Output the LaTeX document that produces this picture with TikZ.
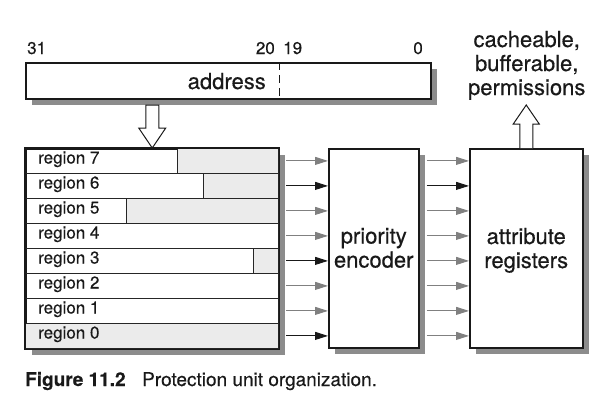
\documentclass[tikz,border=0pt]{standalone}
\usepackage{fontspec}
\setmainfont{TeX Gyre Heros}[FakeBold=0.4]
\usetikzlibrary{arrows.meta, calc}

\begin{document}
\begin{tikzpicture}[x=1pt, y=-1pt, line join=miter,
  every node/.style={text=black!90},
  box/.style={draw=black!90, line width=1.5pt, fill=white, inner sep=0pt, anchor=north west},
  dropfill/.style={fill=black!45},
  row/.style={draw=black!85, line width=0.8pt, minimum width=253pt, minimum height=25pt, inner sep=0pt, anchor=north west},
  sig/.style={-{Triangle[length=13pt, width=8pt]}, line width=1pt, draw=black!50},
  hot/.style={sig, draw=black!90},
  hollow/.style={draw=black!90, line width=1pt, fill=white},
  big/.style={font=\fontsize{22}{24}\selectfont, inner sep=0pt},
  small/.style={font=\fontsize{17}{20}\selectfont, inner sep=0pt}]
\useasboundingbox (0,0) rectangle (602,405);

% shadows
\fill[dropfill] (32,69) rectangle (437,105);
\fill[dropfill] (32,155) rectangle (285,355);
\fill[dropfill] (335,155) rectangle (425,354);
\fill[dropfill] (476,155) rectangle (589,354);

% address register
\node[box, minimum width=405pt, minimum height=36pt] (addr) at (25,62) {};
\draw[black!90, line width=0.9pt, dash pattern=on 8pt off 5pt] (279,62) -- (279,98);
\node[big, anchor=base east] (addrl) at (266,89) {address};
\node[small, anchor=base west] (b31) at (27,54) {31};
\node[small, anchor=base east] (b20) at (275,54) {20};
\node[small, anchor=base west] (b19) at (283,54) {19};
\node[small, anchor=base east] (b0) at (423,54) {0};

% region registers
\node[box, minimum width=253pt, minimum height=200pt] (regs) at (25,148) {};
\foreach \i/\x in {7/177, 6/203, 5/126, 3/253, 0/25}{
  \pgfmathsetmacro\ytop{148+(7-\i)*25}
  \fill[black!8] (\x,\ytop) rectangle (278,\ytop+25);
  \draw[black!85, line width=0.8pt] (\x,\ytop) -- (\x,\ytop+25);
}
\foreach \i in {0,...,7}{
  \pgfmathsetmacro\ytop{148+(7-\i)*25}
  \node[row] (r\i) at (25,\ytop) {};
  \node[small, anchor=base west] (l\i) at ($(r\i.north west)+(13,15.5)$) {region \i};
}
\draw[black!90, line width=1.5pt] (regs.north west) rectangle (regs.south east);

% priority encoder and attributes
\node[box, minimum width=90pt, minimum height=199pt] (enc) at (328,148) {};
\node[big, align=center, anchor=north] (encl) at ($(enc.center)+(0,-20.5)$) {priority\\encoder};
\node[box, minimum width=113pt, minimum height=199pt] (attr) at (469,148) {};
\node[big, align=center, anchor=north] (attrl) at ($(attr.center)+(0,-20.5)$) {attribute\\registers};

% match lines
\foreach \i/\lc/\rc in {7/sig/sig, 6/hot/hot, 5/sig/sig, 4/sig/sig, 3/hot/sig, 2/sig/sig, 1/sig/sig, 0/hot/sig}{
  \draw[\lc] ($(r\i.east)+(7,0)$) -- (r\i.east -| enc.west);
  \draw[\rc] ($(r\i.east -| enc.east)+(7,0)$) -- (r\i.east -| attr.west);
}

% wide arrows
\coordinate (dtip) at (regs.north);
\draw[hollow] ($(dtip)+(-6.5,-43)$) -- ++(13,0) -- ++(0,23) -- ++(7,0) -- (dtip)
  -- ($(dtip)+(-13.5,-20)$) -- ++(7,0) -- cycle;
\coordinate (ubase) at (attr.north);
\draw[hollow] ($(ubase)+(-6.5,0)$) -- ++(0,-24) -- ++(-6.5,0) -- ($(ubase)+(0,-43)$)
  -- ($(ubase)+(13,-24)$) -- ++(-6.5,0) -- ++(0,24);
\node[big, align=center, anchor=south] (out) at ($(ubase)+(0.5,-48)$) {cacheable,\\bufferable,\\permissions};

% caption
\node[font=\fontsize{19}{22}\selectfont\bfseries, inner sep=0pt, anchor=base west] (fig) at (25,386) {Figure 11.2};
\node[font=\fontsize{19}{22}\selectfont, inner sep=0pt, anchor=base west] (cap) at (142,386) {Protection unit organization.};

\end{tikzpicture}
\end{document}
